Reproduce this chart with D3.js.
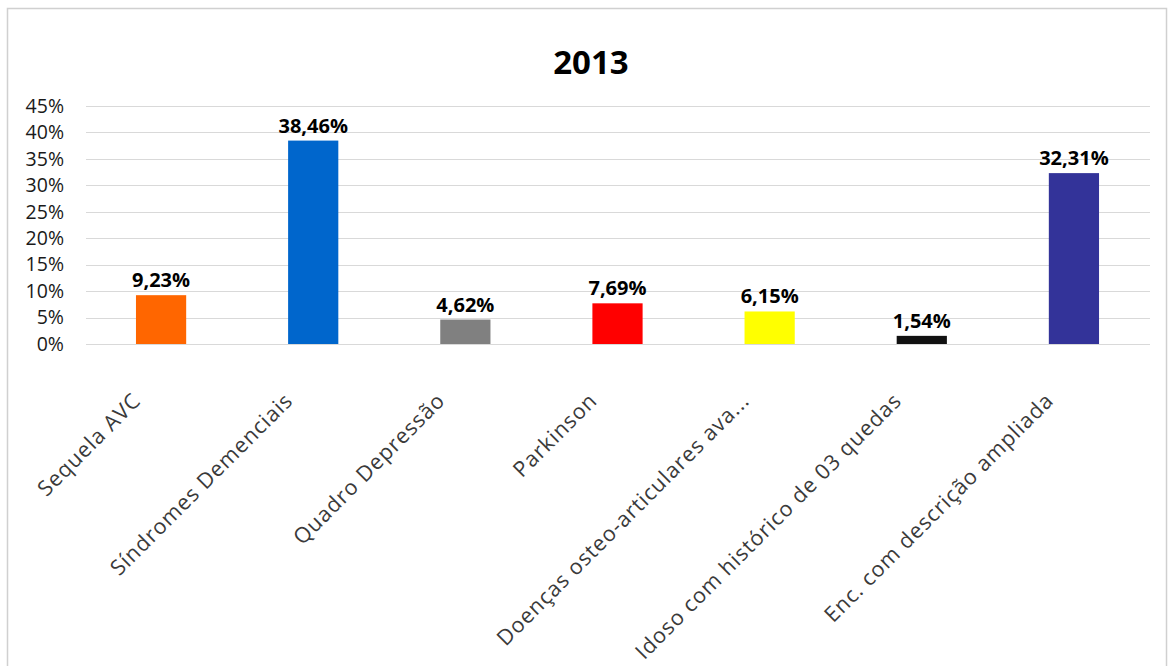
<!DOCTYPE html>
<html>
<head>
<meta charset="utf-8">
<script src="https://cdn.jsdelivr.net/npm/d3@7"></script>
<style>
  body { margin: 0; background: #fff; }
  svg { display: block; }
  text { font-family: "Open Sans", sans-serif; }
</style>
</head>
<body>
<svg id="chart" width="1176" height="666"></svg>
<script>
const title = "2013";
const categories = [
  "Sequela AVC",
  "Síndromes Demenciais",
  "Quadro Depressão",
  "Parkinson",
  "Doenças osteo-articulares ava...",
  "Idoso com histórico de 03 quedas",
  "Enc. com descrição ampliada"
];
const values = [9.23, 38.46, 4.62, 7.69, 6.15, 1.54, 32.31];
const colors = ["#FF6600", "#0066CC", "#808080", "#FF0000", "#FFFF00", "#111111", "#333399"];
const yTicks = [0, 5, 10, 15, 20, 25, 30, 35, 40, 45];

const svg = d3.select("#chart");
const plotBottom = 344;

svg.append("rect")
  .attr("x", 7.5).attr("y", 8.5)
  .attr("width", 1159).attr("height", 680)
  .attr("fill", "#fff").attr("stroke", "#d0d0d0").attr("stroke-width", 1.5);

const x = d3.scaleBand()
  .domain(categories)
  .range([85, 1150])
  .paddingInner(0.67)
  .paddingOuter(0.335);

const y = d3.scaleLinear()
  .domain([0, 45])
  .range([plotBottom, 106]);

// gridlines
svg.append("g")
  .selectAll("line")
  .data(yTicks)
  .join("line")
  .attr("x1", 86).attr("x2", 1150)
  .attr("y1", d => Math.round(y(d)) + 0.5)
  .attr("y2", d => Math.round(y(d)) + 0.5)
  .attr("stroke", "#d9d9d9").attr("stroke-width", 1);

// y axis labels
const yAxis = d3.axisLeft(y)
  .tickValues(yTicks)
  .tickFormat(d => d + "%")
  .tickSize(0)
  .tickPadding(0);
const gy = svg.append("g").attr("transform", "translate(64,0)").call(yAxis);
gy.select(".domain").remove();
gy.selectAll("text")
  .attr("font-family", "'Open Sans', sans-serif")
  .attr("font-size", 19.5)
  .attr("fill", "#1a1a1a");

// bars
svg.append("g")
  .selectAll("rect")
  .data(values)
  .join("rect")
  .attr("x", (d, i) => x(categories[i]))
  .attr("width", x.bandwidth())
  .attr("y", d => y(d))
  .attr("height", d => plotBottom - y(d))
  .attr("fill", (d, i) => colors[i]);

// value labels
svg.append("g")
  .selectAll("text")
  .data(values)
  .join("text")
  .attr("x", (d, i) => x(categories[i]) + x.bandwidth() / 2)
  .attr("y", d => y(d) - 8)
  .attr("text-anchor", "middle")
  .attr("font-size", 20)
  .attr("font-weight", "bold")
  .attr("fill", "#000")
  .text(d => d.toFixed(2).replace(".", ",") + "%");

// category labels
const xAxis = d3.axisBottom(x).tickSize(0).tickPadding(0);
const gx = svg.append("g").attr("transform", `translate(0,${plotBottom})`).call(xAxis);
gx.select(".domain").remove();
gx.selectAll(".tick text")
  .attr("font-family", "'Open Sans', sans-serif")
  .attr("font-size", 21.5)
  .attr("letter-spacing", 0.9)
  .attr("fill", "#3a3a3a")
  .attr("text-anchor", "end")
  .attr("dy", null)
  .attr("y", null)
  .attr("transform", "translate(-19,58) rotate(-45)");

// title
svg.append("text")
  .attr("x", 591).attr("y", 74)
  .attr("text-anchor", "middle")
  .attr("font-size", 33)
  .attr("font-weight", "bold")
  .attr("fill", "#000")
  .text(title);
</script>
</body>
</html>
